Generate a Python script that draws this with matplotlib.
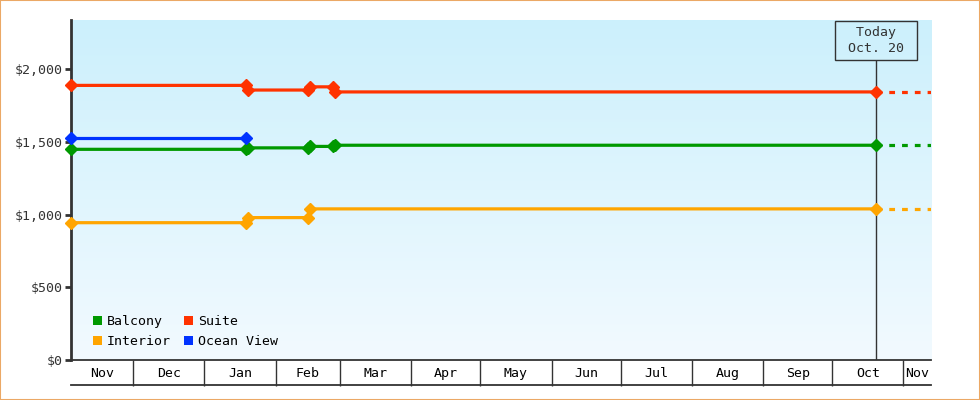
from matplotlib import pyplot as plt
from matplotlib.patches import Patch, Rectangle
import matplotlib.dates as mdates
import matplotlib.transforms as mtransforms
import numpy as np
from datetime import date

# price history per cabin type
balcony_dates = [date(2022, 11, 4), date(2023, 1, 19), date(2023, 1, 20), date(2023, 2, 15),
                 date(2023, 2, 16), date(2023, 2, 26), date(2023, 2, 27), date(2023, 10, 20)]
balcony_prices = [1450, 1450, 1460, 1460, 1470, 1470, 1478, 1478]

suite_dates = balcony_dates
suite_prices = [1890, 1890, 1858, 1858, 1880, 1880, 1845, 1845]

interior_dates = [date(2022, 11, 4), date(2023, 1, 19), date(2023, 1, 20), date(2023, 2, 15),
                  date(2023, 2, 16), date(2023, 10, 20)]
interior_prices = [945, 945, 980, 980, 1040, 1040]

ocean_dates = [date(2022, 11, 4), date(2023, 1, 19)]
ocean_prices = [1525, 1525]

today = date(2023, 10, 20)
today_label = ["Today", "Oct. 20"]
x_start, x_end = date(2022, 11, 4), date(2023, 11, 13)
y_ticks = [0, 500, 1000, 1500, 2000]

series = [
    ("Balcony", balcony_dates, balcony_prices, "#009900"),
    ("Interior", interior_dates, interior_prices, "#ffa500"),
    ("Suite", suite_dates, suite_prices, "#ff3300"),
    ("Ocean View", ocean_dates, ocean_prices, "#0033ff"),
]

plt.rcParams['font.family'] = ['DejaVu Sans Mono']
FS = 9.5
dark = "#333333"

fig = plt.figure(figsize=(9.8, 4.0), dpi=100)
fig.patches.append(Rectangle((0, 0), 1, 1, transform=fig.transFigure, fill=False,
                             ec="#eba865", lw=1.5, zorder=10))
ax = fig.add_axes([71 / 980, 40 / 400, 860 / 980, 340 / 400])

# gradient background
grad = np.linspace(0, 1, 256).reshape(-1, 1)
top_c = np.array([0xcc, 0xf0, 0xfc]) / 255
bot_c = np.array([0xf2, 0xfa, 0xff]) / 255
img = top_c * (1 - grad[..., None]) + bot_c * grad[..., None]
ax.imshow(img, extent=[0, 1, 0, 1], transform=ax.transAxes, aspect='auto', zorder=0)

handles = []
for name, d, p, c in series:
    ax.plot(d, p, color=c, lw=2.3, marker='D', ms=6, zorder=3, solid_capstyle='butt',
            clip_on=False)
    if d[-1] == today:
        ax.plot([today, x_end], [p[-1], p[-1]], color=c, lw=2.3, dashes=(1.8, 2.2), zorder=3)
    handles.append(Patch(facecolor=c, edgecolor='none', label=name))

ax.set_xlim(x_start, x_end)
ax.set_ylim(0, 2340)

# today marker
box_bottom = 1 - 41 / 340
ax.axvline(today, ymin=0, ymax=box_bottom, color=dark, lw=1, zorder=2)
trans = mtransforms.blended_transform_factory(ax.transData, ax.transAxes)
label = "\n".join(f" {s} " for s in today_label)
ax.text(today, 1 - 20.5 / 340, label, transform=trans, ha='center', va='center',
        multialignment='center', fontsize=FS, color=dark, zorder=5, linespacing=1.25,
        bbox=dict(boxstyle='square,pad=0.4', fc='none', ec=dark, lw=1))

# y axis
ax.set_yticks(y_ticks)
ax.set_yticklabels([f"${v:,}" for v in y_ticks])
ax.tick_params(axis='y', length=4, width=2, color=dark, labelcolor=dark, labelsize=FS, pad=2)
for s in ['top', 'right']:
    ax.spines[s].set_visible(False)
ax.spines['left'].set_linewidth(2)
ax.spines['left'].set_color(dark)
ax.spines['bottom'].set_linewidth(1.3)
ax.spines['bottom'].set_color(dark)

# x axis: month cells
month_starts = [date(2022, 11, 1)] + [date(2022 + (m // 12), m % 12 + 1, 1) for m in range(11, 24)]
x0, x1 = mdates.date2num(x_start), mdates.date2num(x_end)
edges = [mdates.date2num(m) for m in month_starts]
inner = [e for e in edges if x0 < e < x1]
ax.set_xticks(inner)
ax.set_xticklabels([])
ax.tick_params(axis='x', which='major', length=18.5, width=1, color=dark, direction='out')
mids, labels = [], []
for i, m in enumerate(month_starts[:-1]):
    a, b = max(edges[i], x0), min(edges[i + 1], x1)
    if b > a:
        mids.append((a + b) / 2)
        labels.append(m.strftime("%b"))
ax.set_xticks(mids, minor=True)
ax.set_xticklabels(labels, minor=True)
ax.tick_params(axis='x', which='minor', length=0, labelsize=FS, labelcolor='black', pad=5)
ax.plot([0, 1], [-25 / 340] * 2, transform=ax.transAxes, color=dark, lw=1.3, clip_on=False)

ax.legend(handles=handles, ncol=2, loc='lower left', bbox_to_anchor=(22 / 860, 12 / 340),
          frameon=False, fontsize=FS, handlelength=0.7, handleheight=0.7, handletextpad=0.35,
          columnspacing=1.0, labelspacing=0.5, borderpad=0, borderaxespad=0)

fig.savefig("out.png", dpi=100)
